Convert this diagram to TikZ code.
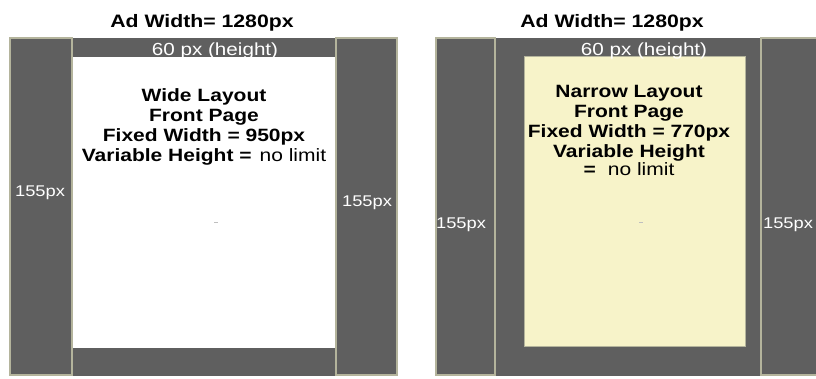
\documentclass[tikz,border=0pt]{standalone}
\usepackage{fontspec}
\setmainfont{Liberation Sans}[FakeStretch=1.18]
\definecolor{adgray}{HTML}{5F5F5F}
\definecolor{adrim}{HTML}{B4B49C}
\definecolor{adcream}{HTML}{F7F3C9}

\begin{document}
\begin{tikzpicture}[
  x=1pt, y=-1pt,
  title/.style={font=\fontsize{18}{21}\selectfont\bfseries, inner sep=0pt, anchor=base},
  column/.style={fill=adgray, draw=adrim, line width=1.6pt},
  bar/.style={fill=adgray},
  sizetag/.style={text=white, font=\fontsize{15.5}{18}\selectfont, inner sep=0pt, anchor=base},
  heading/.style={text=white, font=\fontsize{17.5}{20}\selectfont, inner sep=0pt, anchor=base},
  layout/.style={align=center, font=\fontsize{17.8}{20}\selectfont\bfseries, inner sep=0pt, anchor=north},
  speck/.style={draw=black!25, line width=0.8pt}
]
\clip (0,0) rectangle (816,378);
\fill[white] (0,0) rectangle (816,378);

% wide layout
\fill[bar] (72,38) rectangle (336,57);
\fill[bar] (72,348) rectangle (336,376);
\draw[column] (10,38) rectangle (72,375);
\draw[column] (336,38) rectangle (397,375);
\draw[speck] (214,222) -- (218,222);

\node[title] (wtitle) at (202,27) {Ad Width= 1280px};
\node[heading] (wtop) at (215,55) {60 px (height)};
\node[layout] (wide) at (204,88)
  {Wide Layout\\Front Page\\Fixed Width = 950px\\Variable Height =\hspace{8pt}{\mdseries no limit}};
\node[sizetag] (wleft) at (40,196) {155px};
\node[sizetag] (wright) at (367,206) {155px};

% narrow layout
\fill[bar] (495,38) rectangle (761,376);
\draw[column] (436,38) rectangle (495,375);
\draw[column] (761,38) rectangle (822,375);
\draw[fill=adcream, draw=adrim, line width=1pt] (524,56) rectangle (745,346);
\draw[speck] (639,222) -- (643,222);

\node[title] (ntitle) at (612,27) {Ad Width= 1280px};
\node[heading] (ntop) at (644,55) {60 px (height)};
\node[layout] (narrow) at (629,85)
  {Narrow Layout\\Front Page\\Fixed Width = 770px\\Variable Height\\[-2pt]=\hspace{12pt}{\mdseries no limit}};
\node[sizetag] (nleft) at (461,228) {155px};
\node[sizetag] (nright) at (788,228) {155px};

\end{tikzpicture}
\end{document}
